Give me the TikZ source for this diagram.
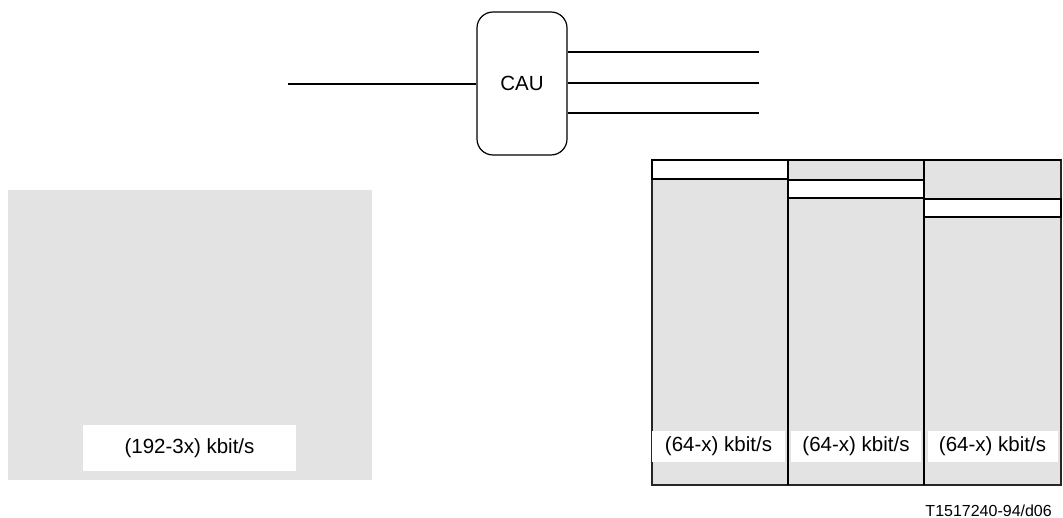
\documentclass[tikz,border=0pt]{standalone}
\usepackage{fontspec}
\setmainfont{Liberation Sans}
\begin{document}
\begin{tikzpicture}[x=1pt,y=-1pt,
  wire/.style={line width=1.6pt},
  grayfill/.style={fill=black!11},
  strip/.style={fill=white,draw=black,line width=1.3pt},
  lbl/.style={fill=white,inner sep=0pt,font=\fontsize{20.5}{24}\selectfont},
  divider/.style={line width=1.6pt}]
\useasboundingbox (0,0) rectangle (1063,518);
% CAU
\node[draw,line width=1.2pt,rounded corners=16pt,minimum width=90pt,minimum height=143pt,
  font=\fontsize{20.5}{24}\selectfont] (cau) at (522,83.5) {CAU};
\coordinate (inL) at (288,84);
\coordinate (o1) at (759,52);
\coordinate (o2) at (759,83);
\coordinate (o3) at (759,113);
\draw[wire] (inL) -- (inL -| cau.west);
\draw[wire] (o1 -| cau.east) -- (o1);
\draw[wire] (o2 -| cau.east) -- (o2);
\draw[wire] (o3 -| cau.east) -- (o3);
% left block
\fill[grayfill] (8,190) rectangle (372,480);
\node[lbl,minimum width=213pt,minimum height=46pt] (l0) at (189.5,448) {(192-3x) kbit/s};
% right block
\fill[grayfill] (652,160) rectangle (1061,485);
\draw[line width=1.2pt,draw=black!85] (652,160) rectangle (1061,485);
\draw[strip] (652,160) rectangle (788,179);
\draw[strip] (788,180) rectangle (924,198);
\draw[strip] (924,199) rectangle (1061,217);
\draw[divider] (788,160) -- (788,485);
\draw[divider] (924,160) -- (924,485);
\draw[line width=1.4pt] (652,160) -- (1061,160);
\node[lbl,minimum width=133pt,minimum height=31pt] (r1) at (718.5,446.5) {(64-x) kbit/s};
\node[lbl,minimum width=130pt,minimum height=31pt] (r2) at (856,446.5) {(64-x) kbit/s};
\node[lbl,minimum width=130pt,minimum height=31pt] (r3) at (992.5,446.5) {(64-x) kbit/s};
% footer
\node[anchor=east,inner sep=0pt,font=\fontsize{16}{19}\selectfont] (ft) at (1052,511) {T1517240-94/d06};
\end{tikzpicture}
\end{document}
